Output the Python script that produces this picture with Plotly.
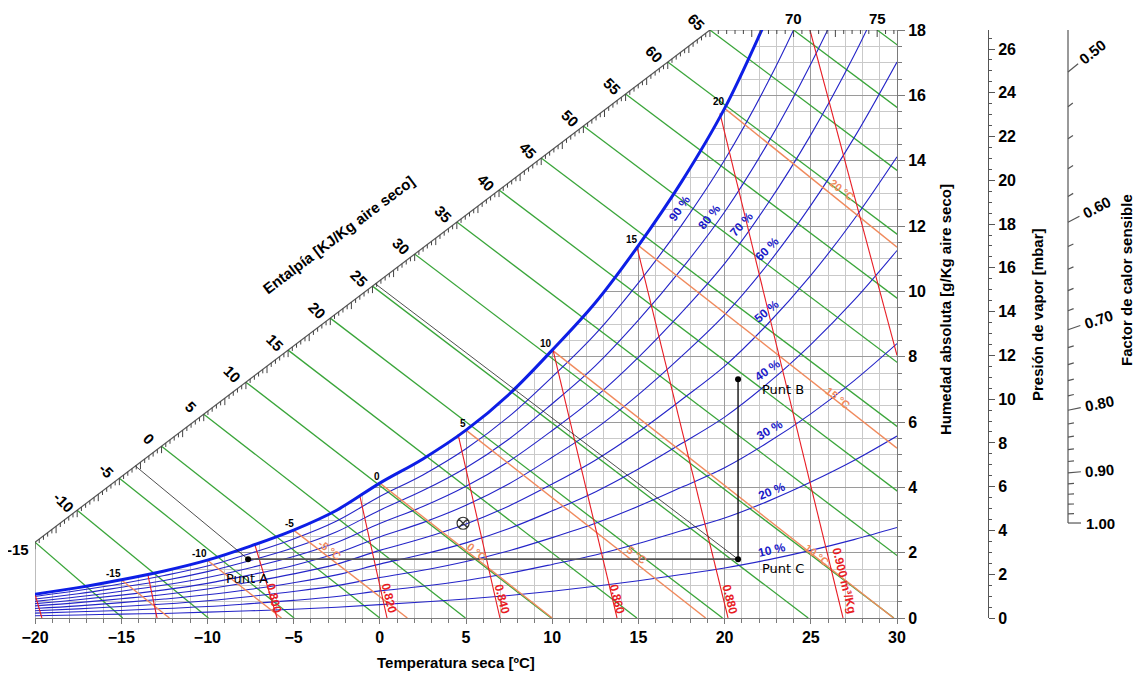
import math
import plotly.graph_objects as go

# ---------------- data ----------------
T_GRID = [-20.0, -17.5, -15.0, -12.5, -10.0, -7.5, -5.0, -2.5, 0.0, 2.5, 5.0,
          7.5, 10.0, 12.5, 15.0, 17.5, 20.0, 22.5, 25.0, 27.5, 30.0]
W_SAT = [0.73, 0.93, 1.17, 1.44, 1.77, 2.20, 2.69, 3.30, 4.13, 4.87, 5.75,
         6.85, 8.20, 9.65, 11.4, 13.35, 15.6, 18.4, 21.35, 24.9, 28.9]
RH_10 = [0.07, 0.09, 0.12, 0.14, 0.18, 0.22, 0.27, 0.33, 0.41, 0.49, 0.58, 0.69, 0.82, 0.97, 1.14, 1.33, 1.53, 1.78, 2.07, 2.40, 2.77]
RH_20 = [0.15, 0.19, 0.23, 0.29, 0.35, 0.44, 0.54, 0.66, 0.83, 0.97, 1.15, 1.37, 1.64, 1.93, 2.28, 2.67, 3.06, 3.57, 4.16, 4.82, 5.57]
RH_30 = [0.22, 0.28, 0.35, 0.43, 0.53, 0.66, 0.81, 0.99, 1.24, 1.46, 1.73, 2.06, 2.46, 2.90, 3.42, 4.00, 4.60, 5.37, 6.25, 7.26, 8.40]
RH_40 = [0.29, 0.37, 0.47, 0.58, 0.71, 0.88, 1.08, 1.32, 1.65, 1.95, 2.30, 2.74, 3.28, 3.86, 4.56, 5.34, 6.15, 7.18, 8.37, 9.72, 11.25]
RH_50 = [0.37, 0.47, 0.59, 0.72, 0.89, 1.10, 1.35, 1.65, 2.07, 2.44, 2.88, 3.43, 4.10, 4.83, 5.70, 6.68, 7.71, 9.00, 10.49, 12.20, 14.12]
RH_60 = [0.44, 0.56, 0.70, 0.86, 1.06, 1.32, 1.61, 1.98, 2.48, 2.92, 3.45, 4.11, 4.92, 5.79, 6.84, 8.01, 9.28, 10.83, 12.63, 14.69, 17.02]
RH_70 = [0.51, 0.65, 0.82, 1.01, 1.24, 1.54, 1.88, 2.31, 2.89, 3.41, 4.03, 4.80, 5.74, 6.76, 7.98, 9.35, 10.85, 12.68, 14.79, 17.21, 19.98]
RH_80 = [0.58, 0.74, 0.94, 1.15, 1.42, 1.76, 2.15, 2.64, 3.30, 3.90, 4.60, 5.48, 6.56, 7.72, 9.12, 10.68, 12.43, 14.53, 16.96, 19.74, 22.94]
RH_90 = [0.66, 0.84, 1.05, 1.30, 1.59, 1.98, 2.42, 2.97, 3.72, 4.38, 5.18, 6.17, 7.38, 8.69, 10.26, 12.02, 14.02, 16.39, 19.15, 22.30, 25.93]
RH_CURVES = [RH_10, RH_20, RH_30, RH_40, RH_50, RH_60, RH_70, RH_80, RH_90]
RH_LABELS = ["10 %", "20 %", "30 %", "40 %", "50 %", "60 %", "70 %", "80 %", "90 %"]
RH_LABEL_T = [22.75, 22.75, 22.63, 22.52, 22.46, 22.46, 21.01, 19.10, 17.41]
RH_LABEL_W = [2.08, 3.88, 5.75, 7.58, 9.39, 11.31, 12.05, 12.29, 12.54]
RH_LABEL_ANGLE = [-13, -22, -30, -35, -40, -45, -48, -51, -55]

# saturation point labels
SAT_LABEL_T = [-15, -10, -5, 0, 5, 10, 15, 20]
SAT_LABEL_W = [1.17, 1.77, 2.69, 4.13, 5.75, 8.20, 11.4, 15.6]

# enthalpy scale (kJ/kg dry air)
ENTH_LABELS = [-15, -10, -5, 0, 5, 10, 15, 20, 25, 30, 35, 40, 45, 50, 55, 60, 65, 70, 75]
ENTH_DIAG_H = [-15, 65]          # diagonal part of the scale
ENTH_DIAG_T = [-20.0, 19.15]
ENTH_DIAG_W = [2.32, 18.0]
ENTH_TOP_T_PER_KJ = 0.97         # along the top edge after 65
ENTH_MAX = 76

# wet-bulb lines (orange)
WB_T = [-15, -10, -5, 0, 5, 10, 15, 20]
WB_W0 = [1.17, 1.77, 2.69, 4.13, 5.75, 8.20, 11.4, 15.6]
WB_T1 = [-12.2, -5.7, 1.6, 10.0, 18.9, 29.8, 30.0, 30.0]
WB_W1 = [0.0, 0.0, 0.0, 0.0, 0.0, 0.0, 5.2, 11.35]
WB_LABELS = ["-5 °C", "0 °C", "5 °C", "10 °C", "15 °C", "20 °C"]
WB_LABEL_T = [-2.89, 5.64, 14.92, 25.36, 26.58, 26.81]
WB_LABEL_W = [2.08, 2.02, 1.93, 1.93, 6.73, 13.09]

# specific volume lines (red)
VOL = [0.76, 0.78, 0.80, 0.82, 0.84, 0.86, 0.88, 0.90, 0.92]
VOL_T0 = [-20.0, -13.45, -7.24, -1.15, 4.54, 10.05, 14.92, 19.73, 24.95]
VOL_W0 = [0.73, 1.32, 2.23, 3.72, 5.62, 8.20, 11.35, 15.45, 18.0]
VOL_T1 = [-19.6, -12.92, -5.96, 0.42, 6.97, 13.76, 20.2, 26.87, 30.0]
VOL_W1 = [0.0, 0.0, 0.0, 0.0, 0.0, 0.0, 0.0, 0.0, 8.04]
VOL_LABELS = ["0.800", "0.820", "0.840", "0.860", "0.880", "0.900 m³/Kg"]
VOL_LABEL_T = [-6.14, 0.53, 7.09, 13.76, 20.3, 26.93]
VOL_LABEL_W = [0.61, 0.61, 0.58, 0.58, 0.58, 1.16]

# process points
PT_NAMES = ["Punt A", "Punt B", "Punt C"]
PT_T = [-7.64, 20.78, 20.78]
PT_W = [1.80, 7.31, 1.80]
PT_H_AXIS = [-3.1, 25.35]        # enthalpy of A and C on the scale
MARK_T = [4.83]
MARK_W = [2.90]

# axis ticks
X_TICKS = [-20, -15, -10, -5, 0, 5, 10, 15, 20, 25, 30]
W_TICKS = [0, 2, 4, 6, 8, 10, 12, 14, 16, 18]
P_TICKS = [0, 2, 4, 6, 8, 10, 12, 14, 16, 18, 20, 22, 24, 26]
SHF_MAJOR = [0.50, 0.60, 0.70, 0.80, 0.90, 1.00]
SHF_MAJOR_TXT = ["0.50", "0.60", "0.70", "0.80", "0.90", "1.00"]
SHF_MINOR = [0.52, 0.54, 0.56, 0.58, 0.62, 0.64, 0.66, 0.68, 0.72, 0.74, 0.76, 0.78,
             0.82, 0.84, 0.86, 0.88, 0.92, 0.94, 0.96, 0.98]

# ---------------- layout geometry ----------------
BODY = 8                      # page body margin of the html page
W, H = 1141 - BODY, 675 - BODY
PL, PT = 35, 30               # plot area top-left on the page
ML, MT = PL - BODY, PT - BODY
PW, PH = 1076, 588
MR = W - ML - PW
MB = H - MT - PH
X_MAIN_PX = 862               # main chart width (px)
XD = X_MAIN_PX / PW
PX_PER_G = PH / 18.0
PRES_POS = (988 - PL) / PW
PRES_TOP = 26 * PH / 569.0
U_BOT, U_TOP = 0.7894, 2.0931
PX_PER_U = PH / (U_TOP - U_BOT)
F_AX_X = 1068

FONT = "Liberation Sans, Arial, sans-serif"
BLUE = "#2424c8"
SATBLUE = "#0d1ee6"
GREEN = "#3aa53a"
RED = "#e81c24"
ORANGE = "#f08a5d"
GRID_MINOR = "#c9c9c9"
GRID_MAJOR = "#9a9a9a"
AXC = "#7a7a7a"


def enth_point(h):
    if h <= ENTH_DIAG_H[1]:
        f = (h - ENTH_DIAG_H[0]) / (ENTH_DIAG_H[1] - ENTH_DIAG_H[0])
        return (ENTH_DIAG_T[0] + f * (ENTH_DIAG_T[1] - ENTH_DIAG_T[0]),
                ENTH_DIAG_W[0] + f * (ENTH_DIAG_W[1] - ENTH_DIAG_W[0]))
    return (ENTH_DIAG_T[1] + (h - ENTH_DIAG_H[1]) * ENTH_TOP_T_PER_KJ, 18.0)


def segs(seglist):
    xs, ys = [], []
    for x0, y0, x1, y1 in seglist:
        xs += [x0, x1, None]
        ys += [y0, y1, None]
    return xs, ys


def px_paper(px, py):
    return (px - PL) / PW, (PT + PH - py) / PH


fig = go.Figure()
common = dict(hoverinfo="skip", showlegend=False)

# white mask above the saturation curve (hides the grid there)
fig.add_trace(go.Scatter(x=T_GRID, y=W_SAT, mode="lines",
                         line=dict(width=0, shape="spline", color="white"), **common))
fig.add_trace(go.Scatter(x=T_GRID, y=[19.5] * len(T_GRID), mode="lines", fill="tonexty",
                         fillcolor="white", line=dict(width=0, color="white"), **common))

# left border up to the enthalpy scale, top border
xs, ys = segs([(-20, 0, -20, ENTH_DIAG_W[0]), (ENTH_DIAG_T[1], 18, 30, 18)])
fig.add_trace(go.Scatter(x=xs, y=ys, mode="lines", line=dict(color=AXC, width=1), **common))

# enthalpy lines (green)
gl = []
for h in ENTH_LABELS:
    t0, w0 = enth_point(h)
    gl.append((t0, w0, h / 1.006, 0.0))
xs, ys = segs(gl)
fig.add_trace(go.Scatter(x=xs, y=ys, mode="lines", line=dict(color=GREEN, width=1.3), **common))

# relative humidity curves
for curve in RH_CURVES:
    fig.add_trace(go.Scatter(x=T_GRID, y=curve, mode="lines",
                             line=dict(color=BLUE, width=1.1, shape="spline"), **common))

# wet bulb lines
xs, ys = segs([(a, b, c, d) for a, b, c, d in zip(WB_T, WB_W0, WB_T1, WB_W1)])
fig.add_trace(go.Scatter(x=xs, y=ys, mode="lines", line=dict(color=ORANGE, width=1.4), **common))

# specific volume lines
xs, ys = segs([(a, b, c, d) for a, b, c, d in zip(VOL_T0, VOL_W0, VOL_T1, VOL_W1)])
fig.add_trace(go.Scatter(x=xs, y=ys, mode="lines", line=dict(color=RED, width=1.1), **common))

# saturation curve
fig.add_trace(go.Scatter(x=T_GRID, y=W_SAT, mode="lines",
                         line=dict(color=SATBLUE, width=3, shape="spline"), **common))

# enthalpy scale line + ticks
xs, ys = segs([(ENTH_DIAG_T[0], ENTH_DIAG_W[0], ENTH_DIAG_T[1], ENTH_DIAG_W[1])])
fig.add_trace(go.Scatter(x=xs, y=ys, mode="lines", line=dict(color="#555", width=1.2), **common))
tk = []
k = 0
h = ENTH_DIAG_H[0]
while h <= ENTH_MAX + 1e-9:
    t, w = enth_point(h)
    long_tick = abs(h / 2.5 - round(h / 2.5)) < 1e-6
    L = (7 if long_tick else 4) / PX_PER_G
    tk.append((t, w, t, w - L))
    k += 1
    h = ENTH_DIAG_H[0] + 0.5 * k
xs, ys = segs(tk)
fig.add_trace(go.Scatter(x=xs, y=ys, mode="lines", line=dict(color="#444", width=1), **common))

# process lines
A = (PT_T[0], PT_W[0]); B = (PT_T[1], PT_W[1]); C = (PT_T[2], PT_W[2])
ha = enth_point(PT_H_AXIS[0]); hc = enth_point(PT_H_AXIS[1])
xs, ys = segs([(ha[0], ha[1], A[0], A[1]), (hc[0], hc[1], C[0], C[1])])
fig.add_trace(go.Scatter(x=xs, y=ys, mode="lines", line=dict(color="#222", width=0.8), **common))
xs, ys = segs([(A[0], A[1], C[0], C[1])])
fig.add_trace(go.Scatter(x=xs, y=ys, mode="lines", line=dict(color="#555", width=1.8), **common))
xs, ys = segs([(B[0], B[1], C[0], C[1])])
fig.add_trace(go.Scatter(x=xs, y=ys, mode="lines", line=dict(color="#111", width=1.4), **common))
fig.add_trace(go.Scatter(x=PT_T, y=PT_W, mode="markers",
                         marker=dict(color="black", size=6), **common))
fig.add_trace(go.Scatter(x=MARK_T, y=MARK_W, mode="markers",
                         marker=dict(symbol="circle-x-open", color="#333", size=12,
                                     line=dict(width=1.2, color="#333")), **common))

# anchor trace for pressure axis
fig.add_trace(go.Scatter(x=[0], y=[0], yaxis="y2", mode="markers",
                         marker=dict(opacity=0), **common))

# sensible heat factor scale (x2 in page pixels, y3 in 1/SHF)
def shf_dir(u):
    th = math.atan(PX_PER_U * (u - 1) / 560.0)
    return math.cos(th), math.sin(th), th

fx, fy = [F_AX_X, F_AX_X, None], [1.0, 1.0 + (523 - 28) / PX_PER_U, None]
for s in SHF_MAJOR + SHF_MINOR:
    u = 1.0 / s
    c, sn, th = shf_dir(u)
    L = 13 if s in SHF_MAJOR else 6
    fx += [F_AX_X, F_AX_X + L * c, None]
    fy += [u, u + L * sn / PX_PER_U, None]
fig.add_trace(go.Scatter(x=fx, y=fy, xaxis="x2", yaxis="y3", mode="lines",
                         line=dict(color="#555", width=1.2), **common))

ann = []
def A_(x, y, text, size=11, color="black", angle=0, bold=True, xref="x", yref="y",
       xshift=0, yshift=0, xanchor="center", yanchor="middle", family=FONT):
    ann.append(dict(x=x, y=y, xref=xref, yref=yref, text=text, showarrow=False,
                    textangle=angle, xshift=xshift, yshift=yshift,
                    xanchor=xanchor, yanchor=yanchor,
                    font=dict(size=size, color=color, family=family,
                              weight="bold" if bold else "normal")))

for s, txt in zip(SHF_MAJOR, SHF_MAJOR_TXT):
    u = 1.0 / s
    c, sn, th = shf_dir(u)
    A_(F_AX_X + 32 * c, u + 32 * sn / PX_PER_U, txt, size=15,
       angle=-math.degrees(th), xref="x2", yref="y3")

# enthalpy labels
for h in ENTH_LABELS:
    t, w = enth_point(h)
    if h == -15:
        A_(t, w, str(h), size=15, xshift=-17, yshift=-7)
    elif h <= 65:
        A_(t, w, str(h), size=15, angle=45, xshift=-13, yshift=8)
    else:
        A_(t, w, str(h), size=15, yshift=12)

# saturation labels
for t, w in zip(SAT_LABEL_T, SAT_LABEL_W):
    A_(t, w, str(t), size=10, xanchor="right", yanchor="bottom", xshift=2, yshift=-1)

# RH labels
for t, w, txt, ang in zip(RH_LABEL_T, RH_LABEL_W, RH_LABELS, RH_LABEL_ANGLE):
    A_(t, w, txt, size=12, color="#1a1ac8", angle=ang)

# wet bulb labels
for t, w, txt in zip(WB_LABEL_T, WB_LABEL_W, WB_LABELS):
    A_(t, w, txt, size=11, color=ORANGE, angle=38)

# volume labels
for t, w, txt in zip(VOL_LABEL_T, VOL_LABEL_W, VOL_LABELS):
    A_(t, w, txt, size=12, color=RED, angle=76)

# point labels
A_(-7.7, 1.22, PT_NAMES[0], size=13, bold=False, family="DejaVu Sans")
A_(22.05, 7.0, PT_NAMES[1], size=13, bold=False, xanchor="left", family="DejaVu Sans")
A_(22.05, 1.53, PT_NAMES[2], size=13, bold=False, xanchor="left", family="DejaVu Sans")

# titles
A_(-2.37, 11.74, "Entalpía [KJ/Kg aire seco]", size=15, angle=-37)
for (px, py), txt, ang in [((456, 662), "Temperatura seca [ºC]", 0),
                           ((945, 310), "Humedad absoluta [g/Kg aire seco]", -90),
                           ((1037, 315), "Presión de vapor [mbar]", -90),
                           ((1126, 280), "Factor de calor sensible", -90)]:
    xp, yp = px_paper(px, py)
    A_(xp, yp, txt, size=15, angle=ang, xref="paper", yref="paper")

tickfont = dict(size=16, color="black", family=FONT, weight="bold")
fig.update_layout(
    width=W, height=H, margin=dict(l=ML, r=MR, t=MT, b=MB),
    paper_bgcolor="white", plot_bgcolor="rgba(0,0,0,0)", showlegend=False,
    xaxis=dict(range=[-20, 30], domain=[0, XD], anchor="y", tickvals=X_TICKS,
               showgrid=True, gridcolor=GRID_MAJOR, gridwidth=1, zeroline=False,
               minor=dict(dtick=1, showgrid=True, gridcolor=GRID_MINOR, ticks="outside",
                          ticklen=4, tickcolor=AXC),
               ticks="outside", ticklen=5, tickcolor=AXC, showline=True, linecolor=AXC,
               tickfont=tickfont),
    yaxis=dict(range=[0, 18], domain=[0, 1], anchor="x", side="right", tickvals=W_TICKS,
               showgrid=True, gridcolor=GRID_MAJOR, gridwidth=1, zeroline=False,
               minor=dict(dtick=0.5, showgrid=True, gridcolor=GRID_MINOR, ticks="outside",
                          ticklen=4, tickcolor=AXC),
               ticks="outside", ticklen=7, tickcolor=AXC, showline=True, linecolor=AXC,
               tickfont=tickfont),
    yaxis2=dict(range=[0, PRES_TOP], overlaying="y", anchor="free", position=PRES_POS,
                side="right", tickvals=P_TICKS, showgrid=False, zeroline=False,
                minor=dict(dtick=0.5, ticks="outside", ticklen=3, tickcolor="#555"),
                ticks="outside", ticklen=6, tickcolor="#555", showline=True,
                linecolor="#555", tickfont=tickfont),
    xaxis2=dict(domain=[0, 1], range=[PL, PL + PW], anchor="y3", visible=False),
    yaxis3=dict(domain=[0, 1], range=[U_BOT, U_TOP], anchor="x2", visible=False),
    annotations=ann,
)

fig.write_html("out.html")
